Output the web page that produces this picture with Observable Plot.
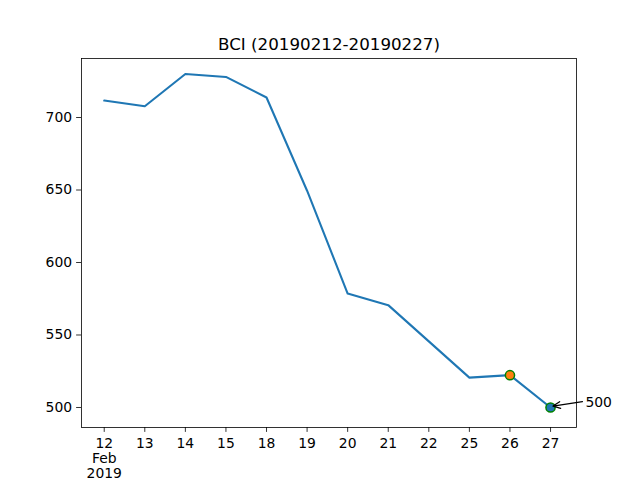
<!DOCTYPE html>
<html>
<head>
<meta charset="utf-8">
<script src="https://cdn.jsdelivr.net/npm/d3@7"></script>
<script src="https://cdn.jsdelivr.net/npm/@observablehq/plot@0.6"></script>
<style>
  html, body { margin: 0; padding: 0; background: #fff; }
  svg { font-family: "DejaVu Sans", sans-serif; }
</style>
</head>
<body>
<div id="chart"></div>
<script>
const title = "BCI (20190212-20190227)";
const dayLabels = ["12\nFeb\n2019", "13", "14", "15", "18", "19", "20", "21", "22", "25", "26", "27"];
const values = [711.7, 707.8, 730.0, 728.0, 713.8, 649.5, 578.6, 570.6, 545.6, 520.6, 522.3, 500.0];
const yTicks = [500, 550, 600, 650, 700];
const highlightA = [{i: 10, v: 522.3}];   // orange marker
const highlightB = [{i: 11, v: 500.0}];   // blue marker
const annotation = [{x: 11.86, y: 503.7, tx: 11.0, ty: 500.0, label: "500"}];

const data = values.map((v, i) => ({i, v}));

const chart = Plot.plot({
  width: 640,
  height: 480,
  marginLeft: 81,
  marginRight: 64,
  marginTop: 58,
  marginBottom: 53,
  style: {fontFamily: "DejaVu Sans, sans-serif", fontSize: "13.9px", color: "black", background: "white"},
  x: {domain: [-0.56, 11.64], ticks: d3.range(dayLabels.length)},
  y: {domain: [486.2, 740.7]},
  marks: [
    Plot.frame({stroke: "black", strokeWidth: 0.8}),
    Plot.axisX({ticks: d3.range(dayLabels.length), tickFormat: i => dayLabels[i], tickSize: 4.9, tickPadding: 4.5, fontSize: 13.9, lineHeight: 1.08, label: null, stroke: "black", strokeWidth: 0.8}),
    Plot.axisY({ticks: yTicks, tickSize: 4.9, tickPadding: 4.5, fontSize: 13.9, label: null, stroke: "black", strokeWidth: 0.8}),
    Plot.line(data, {x: "i", y: "v", stroke: "#1f77b4", strokeWidth: 2.08}),
    Plot.dot(highlightA, {x: "i", y: "v", r: 4.6, fill: "#ff7f0e", stroke: "green", strokeWidth: 1.5}),
    Plot.dot(highlightB, {x: "i", y: "v", r: 4.6, fill: "#1f77b4", stroke: "green", strokeWidth: 1.5}),
    Plot.arrow(annotation, {x1: "x", y1: "y", x2: "tx", y2: "ty", stroke: "black", strokeWidth: 1.2, headLength: 10, headAngle: 50, insetStart: 3, insetEnd: 2.5, dy: -1}),
    Plot.text(annotation, {x: "x", y: "y", text: "label", textAnchor: "start", fontSize: 13.9, fill: "black"}),
    Plot.text([title], {text: d => d, frameAnchor: "top", dy: -8.5, lineAnchor: "bottom", fontSize: 16.7, fill: "black"})
  ]
});
document.getElementById("chart").appendChild(chart);
</script>
</body>
</html>
